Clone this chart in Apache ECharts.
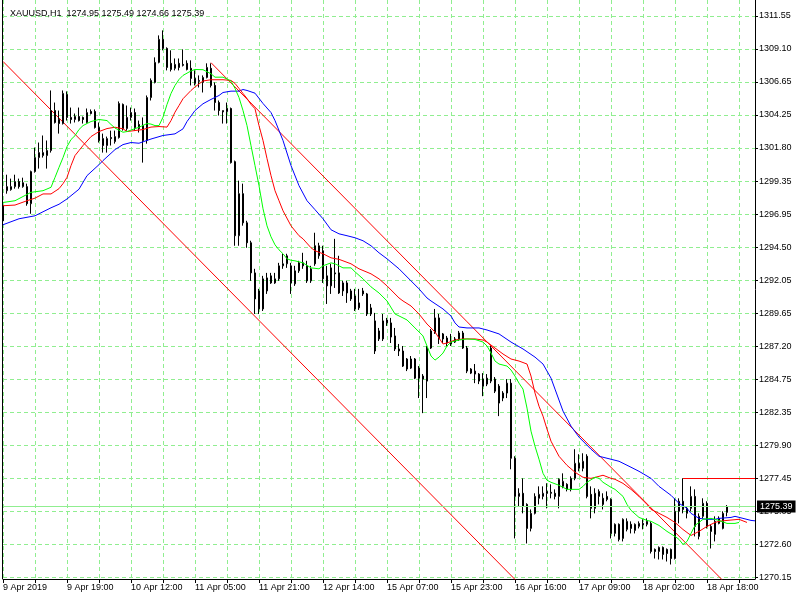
<!DOCTYPE html>
<html>
<head>
<meta charset="utf-8">
<script src="https://cdn.jsdelivr.net/npm/echarts@6/dist/echarts.min.js"></script>
<style>html,body{margin:0;padding:0;background:#fff}#c{width:800px;height:600px}</style>
</head>
<body>
<div id="c"></div>
<script>
const symbolName = 'XAUUSD,H1';
const barSlots = 189;
const timeLabels = ['9 Apr 2019','9 Apr 19:00','10 Apr 12:00','11 Apr 05:00','11 Apr 21:00','12 Apr 14:00','15 Apr 07:00','15 Apr 23:00','16 Apr 16:00','17 Apr 09:00','18 Apr 02:00','18 Apr 18:00'];
const yTickValues = [1311.55,1309.117,1306.683,1304.25,1301.817,1299.383,1296.95,1294.517,1292.083,1289.65,1287.217,1284.783,1282.35,1279.917,1277.483,1275.05,1272.617,1270.183];
const yTickLabels = ['1311.55','1309.10','1306.65','1304.25','1301.80','1299.35','1296.95','1294.50','1292.05','1289.65','1287.20','1284.75','1282.35','1279.90','1277.45','1275.05','1272.60','1270.15'];

const opens = [1297.56,1298.67,1298.75,1298.97,1299.34,1298.97,1298.97,1297.71,1300.08,1301.11,1301.26,1301.26,1301.63,1304.58,1303.92,1303.62,1305.76,1304.07,1303.92,1304.14,
1304.07,1303.70,1304.51,1304.51,1303.33,1302.51,1302.00,1302.59,1302.29,1302.59,1305.03,1303.25,1304.07,1304.43,1303.55,1303.47,1302.37,1305.54,1306.65,1308.13,
1309.83,1309.16,1308.06,1307.69,1308.06,1307.98,1308.06,1307.69,1306.95,1306.73,1306.65,1307.02,1307.69,1306.43,1305.17,1304.48,1304.73,1304.73,1300.81,1295.35,
1298.45,1296.30,1294.83,1292.61,1289.95,1289.95,1291.28,1292.39,1291.87,1292.17,1293.13,1293.28,1293.13,1291.80,1292.76,1293.35,1293.13,1292.02,1294.61,1293.87,
1294.24,1292.39,1291.65,1292.61,1292.61,1291.28,1291.87,1291.28,1290.91,1290.03,1291.28,1291.06,1289.58,1289.07,1287.74,1289.07,1288.92,1288.92,1287.96,1287.00,
1286.85,1286.26,1285.59,1286.26,1285.59,1285.00,1284.63,1287.07,1288.18,1289.29,1288.11,1287.81,1287.59,1287.51,1287.74,1288.18,1287.07,1285.52,1285.37,1285.15,
1284.78,1284.41,1287.07,1284.78,1284.26,1283.38,1283.75,1284.48,1278.94,1276.13,1276.36,1275.54,1273.77,1274.88,1275.99,1276.13,1276.50,1276.43,1276.36,1276.13,
1276.87,1277.02,1276.65,1277.46,1278.57,1278.20,1279.09,1276.28,1275.25,1276.13,1275.99,1276.13,1275.91,1273.40,1274.07,1273.03,1273.70,1274.07,1273.62,1273.92,
1274.14,1274.07,1274.14,1272.22,1272.07,1272.37,1272.22,1272.22,1271.55,1275.03,1275.77,1274.88,1275.25,1276.13,1273.18,1274.66,1275.62,1273.92,1273.33,1274.14,
1273.77,1274.95];
const highs = [1299.04,1299.85,1299.56,1299.85,1299.56,1299.63,1299.19,1300.15,1301.85,1302.22,1302.74,1302.37,1306.06,1305.17,1304.58,1306.06,1305.99,1304.80,1304.36,1304.80,
1304.14,1304.73,1304.66,1304.66,1303.70,1302.88,1302.66,1303.10,1303.10,1305.25,1305.10,1304.95,1304.80,1304.73,1303.84,1304.07,1305.69,1306.95,1308.50,1310.12,
1310.49,1309.24,1309.02,1308.42,1308.42,1309.09,1308.28,1308.28,1307.54,1307.17,1307.17,1308.06,1308.06,1306.65,1305.32,1304.58,1305.17,1304.80,1300.89,1299.41,
1299.19,1296.45,1294.98,1292.91,1291.43,1292.39,1292.61,1292.61,1292.61,1293.35,1294.02,1294.02,1293.35,1293.13,1293.50,1294.09,1293.50,1293.13,1295.57,1294.83,
1294.61,1293.13,1293.28,1295.12,1293.87,1292.02,1292.02,1291.43,1291.43,1291.43,1291.50,1291.13,1290.32,1289.66,1288.55,1289.58,1289.29,1289.29,1288.55,1287.37,
1287.22,1286.33,1286.48,1286.33,1285.74,1285.15,1287.22,1288.47,1289.95,1289.58,1288.18,1287.96,1288.11,1287.88,1288.33,1288.33,1287.22,1285.59,1285.89,1285.22,
1285.22,1285.15,1287.22,1284.93,1284.41,1283.89,1284.78,1284.78,1279.09,1276.73,1277.46,1275.62,1275.17,1276.36,1276.87,1276.87,1277.10,1277.02,1276.65,1277.46,
1277.83,1277.10,1277.61,1279.61,1279.24,1279.31,1279.24,1276.87,1276.73,1276.65,1276.36,1276.50,1275.99,1274.14,1274.14,1274.51,1274.51,1274.29,1274.14,1274.29,
1274.44,1274.51,1274.29,1272.29,1272.44,1272.44,1272.29,1272.29,1275.99,1275.99,1277.46,1275.40,1276.87,1276.65,1274.88,1275.99,1275.77,1274.07,1274.66,1274.66,
1275.03,1275.49];
const lows = [1296.31,1298.45,1298.67,1298.82,1298.82,1298.89,1297.56,1296.97,1300.00,1300.30,1301.11,1300.30,1301.48,1303.62,1302.88,1303.55,1303.84,1303.62,1303.70,1303.77,
1303.62,1303.62,1304.29,1303.25,1302.22,1301.48,1301.48,1302.00,1302.14,1302.51,1303.10,1303.10,1303.84,1303.10,1302.96,1300.74,1302.14,1305.32,1306.58,1308.06,
1309.02,1307.54,1307.46,1307.54,1307.54,1307.83,1307.54,1306.43,1306.43,1306.28,1305.91,1306.95,1306.28,1304.58,1304.21,1303.62,1303.62,1300.67,1294.61,1294.61,
1296.09,1294.46,1292.02,1289.58,1289.58,1289.80,1291.06,1291.80,1291.80,1292.02,1292.91,1292.98,1291.06,1291.65,1292.61,1292.91,1291.87,1291.87,1293.13,1293.65,
1291.87,1290.32,1291.06,1291.50,1291.06,1290.91,1290.40,1290.54,1289.80,1289.88,1290.91,1289.43,1289.43,1286.63,1287.59,1287.59,1288.70,1287.44,1286.85,1286.48,
1285.67,1285.37,1285.52,1284.78,1283.38,1282.27,1283.38,1287.00,1288.11,1287.37,1287.44,1287.22,1287.22,1287.44,1287.59,1287.00,1285.22,1285.15,1284.48,1284.41,
1283.52,1284.26,1284.48,1283.75,1282.05,1283.15,1283.38,1278.13,1273.03,1275.40,1274.88,1272.66,1273.55,1274.80,1275.54,1275.91,1275.25,1275.99,1275.91,1275.25,
1276.73,1276.50,1276.50,1277.32,1277.98,1277.98,1275.99,1274.51,1274.88,1275.54,1275.17,1275.77,1273.03,1273.18,1272.81,1272.81,1273.55,1273.40,1273.40,1273.77,
1273.70,1273.92,1271.92,1271.55,1271.48,1271.48,1271.33,1271.11,1271.48,1274.14,1274.88,1274.51,1275.03,1273.18,1272.96,1274.51,1273.77,1272.29,1272.81,1274.07,
1273.70,1274.66];
const closes = [1296.45,1298.97,1298.97,1299.34,1298.97,1299.26,1297.71,1300.08,1301.11,1301.48,1301.48,1301.63,1304.58,1303.70,1303.62,1305.84,1304.07,1303.92,1304.14,1303.84,
1303.92,1304.43,1304.36,1303.33,1302.37,1302.00,1302.51,1302.51,1302.66,1305.10,1303.25,1304.07,1304.43,1303.33,1303.25,1302.37,1305.54,1306.80,1308.13,1309.83,
1309.16,1307.76,1307.61,1307.98,1307.76,1307.91,1307.61,1306.95,1306.58,1306.80,1307.02,1307.76,1306.43,1305.17,1304.58,1304.58,1304.51,1300.74,1295.35,1298.45,
1296.30,1294.83,1292.61,1290.69,1291.28,1292.17,1292.24,1291.87,1292.17,1293.13,1293.28,1293.87,1291.87,1292.76,1293.35,1293.13,1292.02,1292.91,1293.28,1294.61,
1292.17,1291.65,1292.98,1292.54,1291.13,1291.87,1291.13,1290.69,1289.95,1290.40,1291.06,1289.58,1290.03,1286.85,1288.33,1287.74,1289.14,1287.88,1287.00,1286.85,
1285.74,1285.52,1286.26,1284.85,1284.85,1284.78,1287.07,1288.33,1289.29,1287.74,1287.74,1287.44,1287.37,1287.74,1288.18,1287.07,1285.37,1285.22,1285.15,1284.63,
1284.26,1284.85,1284.63,1283.89,1283.01,1283.75,1284.48,1278.94,1276.13,1276.36,1275.40,1273.77,1274.88,1276.13,1276.28,1276.36,1276.36,1276.36,1276.13,1277.39,
1277.24,1276.65,1277.46,1278.57,1278.20,1278.72,1276.13,1275.25,1276.36,1276.50,1275.54,1275.91,1273.40,1274.07,1272.96,1274.44,1274.29,1273.77,1274.07,1274.14,
1274.03,1274.29,1272.07,1272.07,1272.37,1271.85,1271.92,1271.55,1275.03,1275.77,1275.17,1275.25,1276.13,1273.92,1274.66,1275.62,1273.92,1273.55,1274.29,1274.51,
1274.88,1275.39];

// Alligator lines: [bar index, price]
const jawBlue = [[0,1296.16],[4,1296.60],[8,1296.82],[12,1297.41],[14,1297.67],[16,1298.06],[19,1298.78],[21,1299.78],[24,1300.59],[25,1300.89],[28,1301.70],[30,1302.07],[32,1302.22],[34,1302.17],[37,1302.48],[40,1302.74],[43,1302.86],[45,1303.23],[46,1303.77],[48,1304.58],[50,1305.08],[52,1305.40],[54,1305.69],[55,1305.91],[57,1306.01],[59,1306.01],[60,1306.13],[61,1306.06],[63,1305.86],[65,1305.10],[67,1304.43],[68,1303.84],[70,1302.37],[72,1300.52],[74,1299.04],[76,1297.93],[78,1297.27],[80,1296.60],[82,1295.79],[84,1295.49],[86,1295.35],[88,1295.20],[90,1294.98],[92,1294.61],[94,1294.09],[96,1293.65],[99,1292.91],[102,1292.02],[104,1291.43],[106,1290.76],[107,1290.54],[110,1289.95],[112,1289.43],[113,1288.92],[114,1288.62],[116,1288.55],[119,1288.55],[121,1288.40],[124,1288.11],[127,1287.51],[130,1287.00],[133,1286.40],[135,1285.89],[137,1284.85],[138,1284.04],[140,1282.42],[142,1281.31],[144,1280.50],[147,1279.61],[149,1279.09],[152,1278.87],[154,1278.72],[157,1278.28],[159,1277.98],[162,1277.46],[164,1276.87],[167,1276.21],[169,1275.62],[171,1275.25],[172,1274.88],[174,1274.51],[176,1274.44],[178,1274.44],[179,1274.51],[182,1274.58],[183,1274.66],[185,1274.51],[187,1274.36],[188,1274.33]];
const teethRed = [[0,1297.56],[3,1297.61],[6,1297.93],[8,1298.12],[10,1298.43],[12,1298.43],[14,1298.82],[15,1299.19],[16,1299.65],[17,1300.52],[18,1301.26],[19,1301.63],[20,1302.00],[22,1302.66],[24,1303.03],[26,1303.25],[28,1303.35],[30,1303.23],[31,1303.03],[35,1303.18],[37,1303.36],[39,1303.40],[41,1303.36],[42,1303.84],[43,1304.46],[44,1304.95],[45,1305.45],[47,1306.06],[48,1306.32],[50,1306.76],[52,1306.85],[55,1306.85],[57,1306.80],[58,1306.58],[59,1306.21],[60,1305.84],[61,1305.47],[62,1305.03],[63,1304.71],[64,1303.47],[65,1302.37],[66,1301.04],[67,1299.78],[68,1298.67],[69,1297.93],[70,1297.19],[72,1296.08],[74,1295.35],[75,1295.12],[77,1294.46],[78,1294.24],[80,1294.02],[82,1293.72],[84,1293.61],[85,1293.50],[87,1293.28],[89,1292.91],[92,1292.54],[94,1292.17],[96,1291.65],[99,1290.76],[100,1290.54],[102,1290.17],[104,1289.58],[105,1289.21],[106,1288.84],[108,1288.25],[109,1287.81],[110,1287.37],[111,1287.44],[113,1287.66],[115,1287.74],[118,1287.74],[120,1287.66],[121,1287.51],[123,1287.07],[125,1286.63],[127,1286.26],[129,1286.11],[131,1285.89],[132,1285.00],[133,1283.75],[134,1282.78],[135,1282.05],[136,1281.09],[137,1280.20],[139,1279.09],[141,1278.42],[143,1277.91],[145,1277.54],[147,1277.46],[149,1277.61],[150,1277.69],[152,1277.46],[153,1277.39],[155,1277.09],[157,1276.65],[159,1276.13],[161,1275.54],[162,1275.17],[164,1274.88],[166,1274.58],[168,1274.21],[170,1273.69],[172,1273.25],[173,1273.40],[174,1273.55],[176,1273.92],[178,1274.21],[179,1274.29],[181,1274.36],[184,1274.44],[186,1274.21]];
const lipsGreen = [[0,1297.80],[3,1297.93],[7,1298.55],[10,1298.67],[12,1298.92],[13,1299.65],[14,1300.39],[15,1301.11],[16,1301.92],[17,1302.44],[18,1302.73],[19,1303.18],[20,1303.47],[22,1303.77],[24,1303.92],[26,1303.84],[27,1303.55],[28,1303.29],[30,1302.98],[31,1303.03],[34,1303.35],[36,1303.62],[37,1303.58],[38,1303.47],[39,1303.47],[40,1304.09],[41,1305.03],[42,1305.84],[43,1306.43],[44,1306.87],[45,1307.17],[47,1307.50],[48,1307.61],[50,1307.59],[52,1307.29],[53,1307.04],[55,1307.04],[57,1306.76],[58,1306.21],[59,1305.54],[60,1304.58],[61,1303.47],[62,1301.99],[63,1300.52],[64,1299.04],[65,1297.34],[66,1296.08],[67,1295.27],[68,1294.68],[69,1294.31],[70,1294.02],[71,1293.65],[72,1293.54],[73,1293.50],[75,1293.35],[77,1292.98],[79,1292.91],[80,1293.13],[82,1293.35],[83,1293.28],[85,1292.98],[87,1292.98],[88,1292.69],[90,1292.17],[92,1291.58],[94,1291.13],[96,1290.54],[98,1289.58],[100,1289.29],[101,1289.14],[103,1288.55],[105,1287.96],[106,1287.22],[107,1286.48],[108,1286.18],[109,1286.40],[110,1286.70],[111,1287.22],[112,1287.51],[114,1287.66],[116,1287.74],[118,1287.70],[120,1287.51],[121,1287.22],[122,1286.70],[123,1286.11],[124,1285.89],[126,1285.74],[127,1285.45],[128,1285.00],[129,1284.48],[130,1284.04],[131,1282.64],[132,1280.94],[133,1279.83],[134,1278.87],[135,1277.83],[136,1277.32],[137,1277.17],[139,1276.95],[141,1276.65],[144,1276.65],[145,1276.87],[146,1277.17],[148,1277.54],[149,1277.46],[150,1277.17],[152,1276.80],[153,1276.65],[155,1276.13],[156,1275.54],[157,1275.10],[159,1274.58],[161,1274.36],[162,1274.29],[164,1273.99],[166,1273.55],[168,1273.18],[169,1272.96],[170,1272.59],[171,1272.81],[172,1273.40],[173,1273.99],[174,1274.21],[175,1274.44],[177,1274.51],[179,1274.36],[181,1274.14],[183,1274.14],[184,1274.21]];

// Equidistant channel (red), two parallel rays: [bar index, price]
const channelLower = [[0,1308.20],[135,1267.92]];
const channelUpper = [[52,1308.11],[188,1267.53]];
// Horizontal red line starting at a bar
const levelLine = {startBar:170, endBar:188, price:1277.50};

const gridColor = '#90EE90';
const categories = Array.from({length: barSlots}, (_, i) => i);
const candleData = opens.map((o, i) => [o, closes[i], lows[i], highs[i]]);
const last = opens.length - 1;
const bidText = closes[last].toFixed(2);
const titleText = symbolName + '  ' + [opens[last], highs[last], lows[last], closes[last]].map(v => v.toFixed(2)).join(' ');

const chart = echarts.init(document.getElementById('c'), null, {renderer: 'canvas'});
const font = 'Liberation Sans';
chart.setOption({
  animation: false,
  backgroundColor: '#fff',
  textStyle: {fontFamily: font},
  title: {text: titleText, left: 5, top: 4, textStyle: {fontSize: 9, fontWeight: 'normal', color: '#000', fontFamily: font}},
  grid: {left: 3, right: 45, top: 0, bottom: 21, containLabel: false},
  xAxis: {
    type: 'category', data: categories, boundaryGap: false,
    axisLine: {show: true, lineStyle: {color: '#000', width: 1}},
    axisTick: {show: true, interval: 7, length: 4, lineStyle: {color: '#000'}},
    axisLabel: {interval: 15, align: 'left', margin: 4, fontSize: 9, color: '#000', fontFamily: font,
      formatter: (v) => { const i = Number(v); return i % 16 === 0 ? (timeLabels[i / 16] || '') : ''; }},
    splitLine: {show: true, interval: 7, lineStyle: {color: gridColor, type: [4, 3], width: 1}}
  },
  yAxis: {
    type: 'value', position: 'right', min: 1270.04, max: 1312.73,
    axisLine: {show: true, lineStyle: {color: '#000', width: 1}},
    axisTick: {show: true, length: 3, customValues: yTickValues, lineStyle: {color: '#000'}},
    axisLabel: {customValues: yTickValues, margin: 4, fontSize: 9, color: '#000', fontFamily: font,
      formatter: (v) => { let b = 0, d = 1e9; yTickValues.forEach((t, i) => { const dd = Math.abs(t - v); if (dd < d) { d = dd; b = i; } }); return yTickLabels[b]; }},
    splitLine: {show: true, lineStyle: {color: gridColor, type: [4, 3], width: 1}}
  },
  graphic: [{type: 'line', shape: {x1: 2.5, y1: 0, x2: 2.5, y2: 579}, style: {stroke: '#000', lineWidth: 1}, z: 100}],
  series: [
    {type: 'candlestick', data: candleData, barWidth: 2, z: 3,
      itemStyle: {color: '#fff', color0: '#000', borderColor: '#000', borderColor0: '#000', borderWidth: 1},
      markLine: {silent: true, symbol: ['none', 'none'], animation: false, precision: 2,
        data: [
          {yAxis: closes[last], lineStyle: {color: gridColor, type: 'solid', width: 1},
            label: {show: true, position: 'end', formatter: bidText, color: '#fff', backgroundColor: '#000', fontSize: 9, fontFamily: font, padding: [2, 3, 1, 3], distance: 2}},
          [{coord: [levelLine.startBar, levelLine.price], lineStyle: {color: '#ff0000', type: 'solid', width: 1}, label: {show: false}},
           {coord: [levelLine.endBar, levelLine.price]}]
        ]}},
    {type: 'line', data: jawBlue, symbol: 'none', lineStyle: {color: '#0000ff', width: 1}, z: 4, silent: true},
    {type: 'line', data: teethRed, symbol: 'none', lineStyle: {color: '#ff0000', width: 1}, z: 4, silent: true},
    {type: 'line', data: lipsGreen, symbol: 'none', lineStyle: {color: '#00ff00', width: 1}, z: 4, silent: true},
    {type: 'line', data: channelLower, symbol: 'none', lineStyle: {color: '#ff0000', width: 1}, z: 2, silent: true},
    {type: 'line', data: channelUpper, symbol: 'none', lineStyle: {color: '#ff0000', width: 1}, z: 2, silent: true}
  ]
});
</script>
</body>
</html>
